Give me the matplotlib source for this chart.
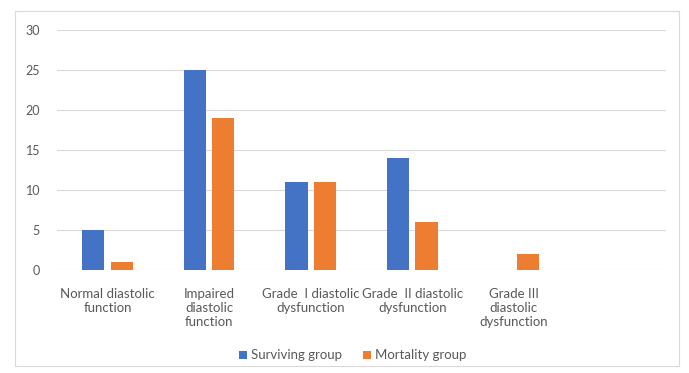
import matplotlib
matplotlib.use("Agg")
import matplotlib.pyplot as plt
from matplotlib.patches import Rectangle
import numpy as np

categories = [
    "Normal diastolic\nfunction",
    "Impaired\ndiastolic\nfunction",
    "Grade  I diastolic\ndysfunction",
    "Grade  II diastolic\ndysfunction",
    "Grade III\ndiastolic\ndysfunction",
    "",
]
surviving = [5, 25, 11, 14, 0, 0]
mortality = [1, 19, 11, 6, 2, 0]
y_ticks = [0, 5, 10, 15, 20, 25, 30]

blue = "#4472C4"
orange = "#ED7D31"
text_gray = "#595959"
grid_gray = "#D9D9D9"

plt.rcParams["font.family"] = ["Lato", "DejaVu Sans"]

fig = plt.figure(figsize=(6.89, 3.73), dpi=100)
fig.patch.set_facecolor("white")

# chart-area frame
fig.add_artist(Rectangle((15 / 689, 1 - 366 / 373), 664 / 689, 355 / 373,
                         transform=fig.transFigure, fill=False,
                         edgecolor="#D9D9D9", linewidth=0.8))

ax = fig.add_axes([0.0823, 0.276, 0.8847, 0.6436])
x = np.arange(len(categories))
w = 0.22
off = 0.14
ax.bar(x - off, surviving, width=w, color=blue, label="Surviving group", zorder=3)
ax.bar(x + off, mortality, width=w, color=orange, label="Mortality group", zorder=3)

ax.set_xlim(-0.5, len(categories) - 0.5)
ax.set_ylim(0, 30)
ax.set_yticks(y_ticks)
ax.set_yticklabels([str(v) for v in y_ticks], fontsize=9, color=text_gray)
ax.set_xticks(x)
ax.set_xticklabels(categories, fontsize=9.5, color=text_gray, linespacing=1.2,
                   va="top")
ax.tick_params(axis="both", length=0)
ax.tick_params(axis="x", pad=13)
ax.tick_params(axis="y", pad=12)
ax.grid(axis="y", color=grid_gray, linewidth=0.8, zorder=0)
for s in ax.spines.values():
    s.set_visible(False)

fig.legend(loc="center", bbox_to_anchor=(0.512, 0.047), ncol=2, frameon=False,
           fontsize=9.5, handlelength=0.6, handleheight=0.6, handletextpad=0.3,
           columnspacing=1.6, labelcolor=text_gray)

fig.savefig("out.png", dpi=100, facecolor="white")
